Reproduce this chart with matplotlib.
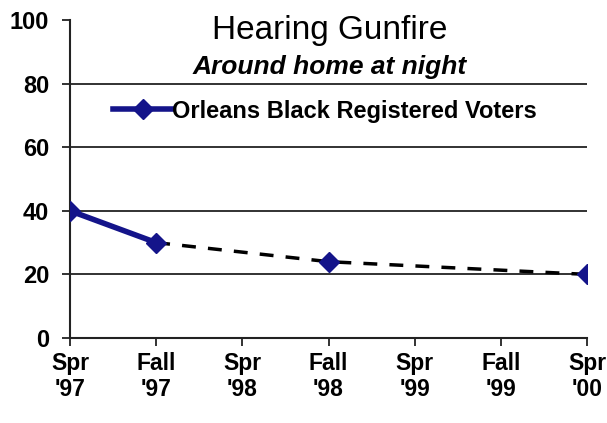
import matplotlib.pyplot as plt
from matplotlib.lines import Line2D

plt.rcParams['font.family'] = ['Liberation Sans', 'DejaVu Sans']

# survey waves and share hearing gunfire (%)
waves = ["Spr\n'97", "Fall\n'97", "Spr\n'98", "Fall\n'98", "Spr\n'99", "Fall\n'99", "Spr\n'00"]
solid_idx = [0, 1]
solid_vals = [40, 30]
dash_idx = [1, 3, 6]
dash_vals = [30, 24, 20]
yticks = [0, 20, 40, 60, 80, 100]

navy = '#14148a'

fig = plt.figure(figsize=(6.07, 4.23), dpi=100)
ax = fig.add_axes([70/607, 85/423, 517/607, 318/423])

for y in yticks[1:-1]:
    ax.axhline(y, color='#222222', lw=1.3, zorder=1)

ax.plot(dash_idx, dash_vals, color='black', lw=2.5, dashes=(4, 3.5), zorder=2)
ax.plot(dash_idx[1:], dash_vals[1:], ls='none', marker='D', ms=10, color=navy, zorder=3)
ax.plot(solid_idx, solid_vals, color=navy, lw=4, marker='D', ms=10, zorder=4)

ax.set_xlim(0, 6)
ax.set_ylim(0, 100)
ax.set_xticks(range(len(waves)))
ax.set_xticklabels(waves, fontsize=16.5, fontweight='bold', linespacing=1.2)
ax.set_yticks(yticks)
ax.set_yticklabels([str(v) for v in yticks], fontsize=17, fontweight='bold')
ax.tick_params(axis='x', length=6, width=1.3, pad=4, color='#222222')
ax.tick_params(axis='y', length=6, width=1.3, pad=9, color='#222222')

for s in ['top', 'right']:
    ax.spines[s].set_visible(False)
for s in ['left', 'bottom']:
    ax.spines[s].set_linewidth(1.5)
    ax.spines[s].set_color('#222222')

fig.text(330/607, 1 - 30/423, 'Hearing Gunfire', ha='center', va='center', fontsize=24)
fig.text(330/607, 1 - 67/423, 'Around home at night', ha='center', va='center',
         fontsize=19, fontstyle='italic', fontweight='bold')

handle = Line2D([], [], color=navy, lw=4, marker='D', ms=10)
leg = ax.legend([handle], ['Orleans Black Registered Voters'], frameon=False,
                loc='center left', bbox_to_anchor=(34/517, 1 - 91/318),
                handlelength=2.5, handletextpad=0.0, borderaxespad=0,
                prop={'size': 17, 'weight': 'bold'})

fig.savefig('out.png', dpi=100)
